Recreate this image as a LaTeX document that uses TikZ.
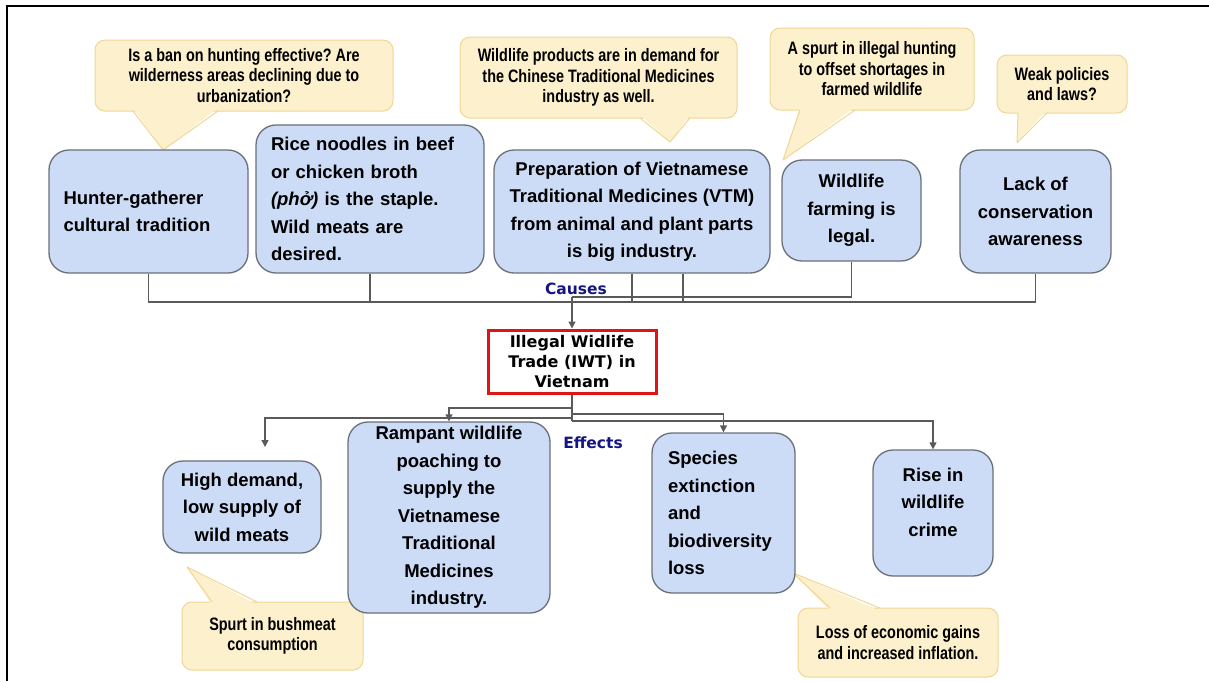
\documentclass[tikz,border=0pt]{standalone}
\usepackage{fontspec}
\setmainfont{Liberation Sans}
\newfontfamily\callfont[FakeStretch=0.8]{Liberation Sans}
\newfontfamily\iwtfont{DejaVu Sans}
\usetikzlibrary{arrows.meta}
\frenchspacing

\definecolor{boxfill}{RGB}{205,220,246}
\definecolor{boxline}{RGB}{105,112,122}
\definecolor{callfill}{RGB}{253,240,204}
\definecolor{callline}{RGB}{240,214,150}
\definecolor{linkgray}{RGB}{90,90,90}
\definecolor{tagnavy}{RGB}{20,20,130}
\definecolor{iwtred}{RGB}{225,20,20}

\tikzset{
  cause/.style={draw=boxline, fill=boxfill, line width=1.3pt, rounded corners=20pt,
    inner sep=0pt, font=\fontsize{18.5}{27.5}\selectfont\bfseries},
  callout/.style={draw=callline, fill=callfill, line width=1pt, rounded corners=10pt,
    inner sep=0pt, align=center, font=\callfont\fontsize{18}{20.5}\selectfont\bfseries},
  tail/.style={draw=callline, line width=1pt, line join=round},
  link/.style={draw=linkgray, line width=1.3pt},
  arr/.style={link, -{Triangle[length=7pt,width=7pt]}},
  tag/.style={text=tagnavy, font=\iwtfont\fontsize{15.5}{18}\selectfont\bfseries},
}

\begin{document}
\begin{tikzpicture}[x=1pt, y=-1pt]
  \useasboundingbox (0,0) rectangle (1209,681);
  \draw[line width=2.5pt] (7,681) -- (7,6) -- (1209,6);

  % callouts
  \node[callout, minimum width=298pt, minimum height=71pt] (ban) at (244,75.5)
    {Is a ban on hunting effective? Are\\ wilderness areas declining due to\\ urbanization?};
  \fill[callfill] (133,108) -- (163,150) -- (218,108) -- cycle;
  \draw[tail] (133,111) -- (163,150) -- (218,111);
  \node[callout, minimum width=277pt, minimum height=81pt] (chinese) at (598.5,77.5)
    {Wildlife products are in demand for\\ the Chinese Traditional Medicines\\ industry as well.};
  \fill[callfill] (640,115) -- (670,142) -- (690,115) -- cycle;
  \draw[tail] (640,118) -- (670,142) -- (690,118);
  \node[callout, minimum width=204pt, minimum height=82pt] (shortage) at (872,69)
    {A spurt in illegal hunting\\ to offset shortages in\\ farmed wildlife};
  \fill[callfill] (800,107) -- (783,160) -- (855,107) -- cycle;
  \draw[tail] (800,110) -- (783,160) -- (855,110);
  \node[callout, minimum width=130pt, minimum height=58pt] (laws) at (1062,84)
    {Weak policies\\ and laws?};
  \fill[callfill] (1018,110) -- (1017,143) -- (1047,110) -- cycle;
  \draw[tail] (1018,113) -- (1017,143) -- (1047,113);
  \node[callout, minimum width=181pt, minimum height=68pt] (bushmeat) at (272.5,636)
    {Spurt in bushmeat\\ consumption};
  \fill[callfill] (212,605) -- (187,567) -- (257,605) -- cycle;
  \draw[tail] (212,602) -- (187,567) -- (257,602);
  \node[callout, minimum width=200pt, minimum height=69pt] (inflation) at (898,642.5)
    {Loss of economic gains\\ and increased inflation.};
  \fill[callfill] (830,611) -- (793,573) -- (880,611) -- cycle;
  \draw[tail] (830,608) -- (793,573) -- (880,608);

  % causes
  \node[cause, minimum width=199pt, minimum height=123pt, text width=170pt, align=left] (hunter) at (148.5,211.5)
    {Hunter-gatherer\\ cultural tradition};
  \node[cause, minimum width=228pt, minimum height=148pt, text width=198pt, align=left] (pho) at (370,199)
    {Rice noodles in beef\\ or chicken broth\\ \textit{(phở)} is the staple.\\ Wild meats are\\ desired.};
  \node[cause, minimum width=276pt, minimum height=123pt, align=center] (vtm) at (632,211.5)
    {Preparation of Vietnamese\\ Traditional Medicines (VTM)\\ from animal and plant parts\\ is big industry.};
  \node[cause, minimum width=139pt, minimum height=101pt, align=center] (farm) at (851.5,210.5)
    {Wildlife\\ farming is\\ legal.};
  \node[cause, minimum width=151pt, minimum height=123pt, align=center] (lack) at (1035.5,211.5)
    {Lack of\\ conservation\\ awareness};

  % the trade
  \node[draw=iwtred, line width=3pt, minimum width=168pt, minimum height=63pt, inner sep=0pt,
    align=center, font=\iwtfont\fontsize{16}{20}\selectfont\bfseries] (iwt) at (572,361.5)
    {Illegal Widlife\\ Trade (IWT) in\\ Vietnam};

  % effects
  \node[cause, minimum width=158pt, minimum height=92pt, align=center] (demand) at (242,507)
    {High demand,\\ low supply of\\ wild meats};
  \node[cause, minimum width=202pt, minimum height=191pt, align=center] (poach) at (449,517.5)
    {Rampant wildlife\\ poaching to\\ supply the\\ Vietnamese\\ Traditional\\ Medicines\\ industry.};
  \node[cause, minimum width=143pt, minimum height=160pt, text width=111pt, align=left] (species) at (723.5,513)
    {Species\\ extinction\\ and\\ biodiversity\\ loss};
  \node[cause, minimum width=120pt, minimum height=126pt, align=center] (rise) at (933,513)
    {Rise in\\ wildlife\\ crime\\[-5.5pt]\mbox{}};

  \node[tag] (causes) at (576,289) {Causes};
  \node[tag] (effects) at (593,443) {Effects};

  % connectors
  \coordinate (causebus) at (0,302);
  \coordinate (causetop) at (0,297);
  \coordinate (effA) at (0,408);
  \coordinate (effB) at (0,418);
  \coordinate (effC) at (0,414);
  \coordinate (effD) at (0,421);
  \coordinate (demandtip) at (265,447);
  \draw[link] (hunter.south) -- (hunter.south |- causebus) -- (lack.south |- causebus) -- (lack.south);
  \draw[link] (pho.south) -- (pho.south |- causebus);
  \draw[link] (vtm.south) -- (vtm.south |- causebus);
  \draw[link] ([xshift=51pt]vtm.south) -- ([xshift=51pt]vtm.south |- causebus);
  \draw[link] (farm.south) -- (farm.south |- causetop) -- (iwt.north |- causetop);
  \draw[arr] (iwt.north |- causetop) -- (iwt.north);
  \draw[link] (iwt.south) -- (iwt.south |- effD);
  \draw[arr] (iwt.south |- effA) -| (poach.north);
  \draw[arr] (iwt.south |- effB) -| (demandtip);
  \draw[arr] (iwt.south |- effC) -| (species.north);
  \draw[arr] (iwt.south |- effD) -| (rise.north);
\end{tikzpicture}
\end{document}
